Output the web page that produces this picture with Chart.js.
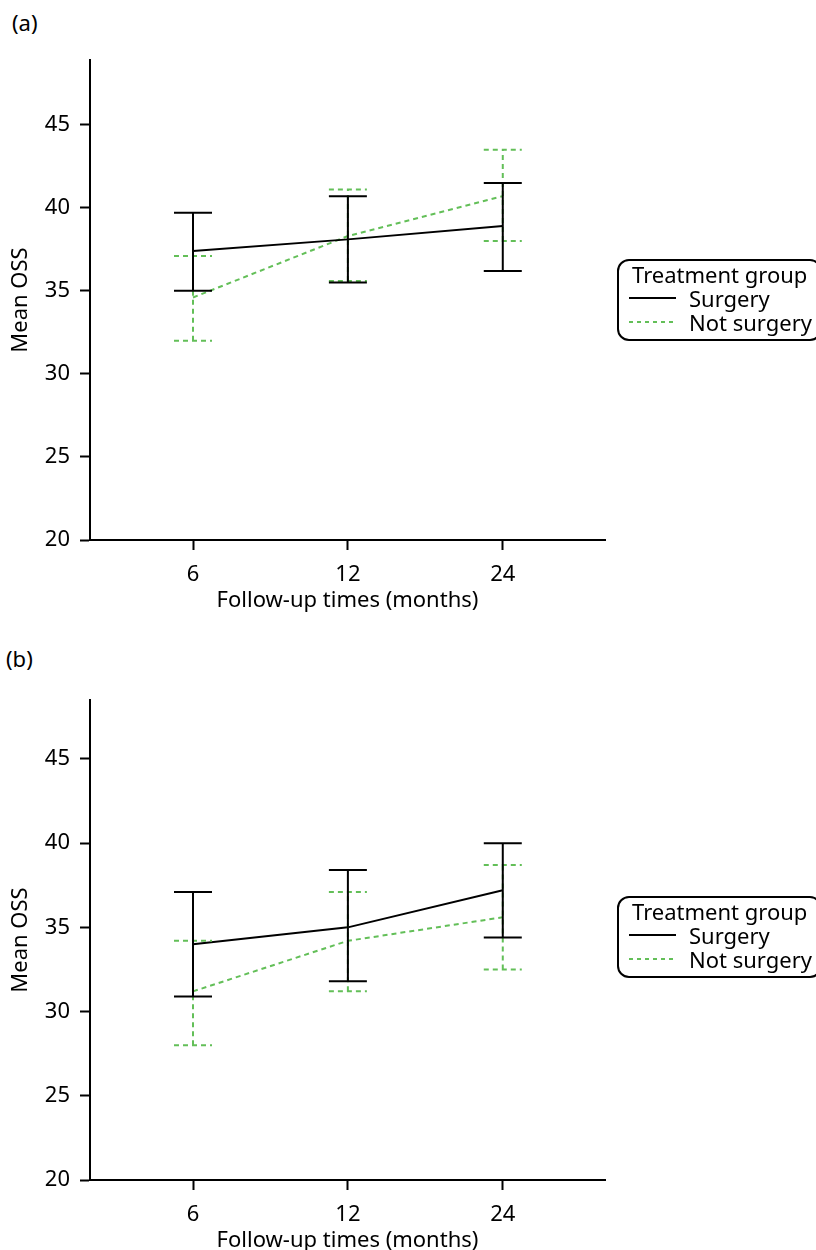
<!DOCTYPE html>
<html>
<head>
<meta charset="utf-8">
<script src="https://cdn.jsdelivr.net/npm/chart.js@4"></script>
<style>
  body { margin: 0; width: 816px; height: 1250px; overflow: hidden; background: #fff; position: relative;
         font-family: "Noto Sans", sans-serif; color: #000; }
  .panel { position: absolute; left: 0; width: 816px; height: 640px; }
  .panel canvas { position: absolute; left: 0; top: 0; }
  .tag { position: absolute; font-size: 22px; line-height: 26px; }
  .key { position: absolute; left: 617px; width: 205px; height: 82px; box-sizing: border-box;
         border: 2px solid #000; border-radius: 12px; padding: 1px 0 0 13px; font-size: 22px; line-height: 24px; }
  .key .row { display: flex; align-items: center; }
  .key .swatch { width: 47px; height: 2px; margin: 0 13px 0 -3px; background: #000; }
  .key .swatch.dash { background: repeating-linear-gradient(90deg, #63bf58 0 4px, transparent 4px 8px); }
</style>
</head>
<body>

<div class="panel" style="top:0">
  <div class="tag" style="left:12px; top:9px">(a)</div>
  <canvas id="plot-a" width="620" height="630"></canvas>
  <div class="key" style="top:259px">
    <div>Treatment group</div>
    <div class="row"><span class="swatch"></span>Surgery</div>
    <div class="row"><span class="swatch dash"></span>Not surgery</div>
  </div>
</div>

<div class="panel" style="top:640px">
  <div class="tag" style="left:6px; top:5px">(b)</div>
  <canvas id="plot-b" width="620" height="630"></canvas>
  <div class="key" style="top:256px">
    <div>Treatment group</div>
    <div class="row"><span class="swatch"></span>Surgery</div>
    <div class="row"><span class="swatch dash"></span>Not surgery</div>
  </div>
</div>

<script>
var followUp = ["6", "12", "24"];
var yTicks = [20, 25, 30, 35, 40, 45];

// (a) means and 95% CI limits
var surgeryMeanA = [37.4, 38.1, 38.9];
var surgeryLowA = [35.0, 35.5, 36.2];
var surgeryHighA = [39.7, 40.7, 41.5];
var notSurgeryMeanA = [34.6, 38.3, 40.7];
var notSurgeryLowA = [32.0, 35.6, 38.0];
var notSurgeryHighA = [37.1, 41.1, 43.5];

// (b)
var surgeryMeanB = [34.0, 35.0, 37.2];
var surgeryLowB = [30.9, 31.8, 34.4];
var surgeryHighB = [37.1, 38.4, 40.0];
var notSurgeryMeanB = [31.2, 34.2, 35.6];
var notSurgeryLowB = [28.0, 31.2, 32.5];
var notSurgeryHighB = [34.2, 37.1, 38.7];

var black = "#000000";
var green = "#63bf58";
var fontFamily = "'Noto Sans', sans-serif";

// vertical whiskers with caps, green first so black sits on top
var errorBars = {
  id: "errorBars",
  afterDatasetsDraw(chart) {
    const ctx = chart.ctx;
    const xs = chart.scales.x, ys = chart.scales.y;
    for (let d = chart.data.datasets.length - 1; d >= 0; d--) {
      const ds = chart.data.datasets[d];
      ctx.save();
      ctx.strokeStyle = ds.borderColor;
      ctx.lineWidth = 2;
      ctx.setLineDash(ds.borderDash || []);
      ds.low.forEach((lo, i) => {
        const x = xs.getPixelForValue(i + 1);
        const y1 = ys.getPixelForValue(lo);
        const y2 = ys.getPixelForValue(ds.high[i]);
        ctx.beginPath();
        ctx.moveTo(x, y1); ctx.lineTo(x, y2);
        ctx.moveTo(x - 19, y1); ctx.lineTo(x + 19, y1);
        ctx.moveTo(x - 19, y2); ctx.lineTo(x + 19, y2);
        ctx.stroke();
      });
      ctx.restore();
    }
  }
};

function toPoints(arr) {
  return arr.map((v, i) => ({ x: i + 1, y: v }));
}

function makePlot(id, sMean, sLow, sHigh, nMean, nLow, nHigh, yMax) {
  const tickFont = { family: fontFamily, size: 22 };
  return new Chart(id, {
    type: "line",
    data: {
      datasets: [{
        label: "Surgery",
        data: toPoints(sMean),
        low: sLow, high: sHigh,
        borderColor: black,
        borderWidth: 2,
        pointRadius: 0
      }, {
        label: "Not surgery",
        data: toPoints(nMean),
        low: nLow, high: nHigh,
        borderColor: green,
        borderWidth: 2,
        borderDash: [5, 4],
        pointRadius: 0
      }]
    },
    options: {
      responsive: false,
      animation: false,
      devicePixelRatio: 1,
      layout: { padding: { top: 60, right: 15, left: 0, bottom: 0 } },
      plugins: {
        legend: { display: false },
        tooltip: { enabled: false }
      },
      scales: {
        x: {
          type: "linear",
          min: 0.335,
          max: 3.66,
          afterBuildTicks: (s) => { s.ticks = followUp.map((_, i) => ({ value: i + 1 })); },
          afterFit: (s) => { s.height = 90; },
          ticks: {
            callback: (v) => followUp[Math.round(v) - 1],
            color: black, font: tickFont, padding: 12, maxRotation: 0, autoSkip: false
          },
          grid: { drawOnChartArea: false, drawTicks: true, tickLength: 10, tickWidth: 2, tickColor: black },
          border: { display: true, color: black, width: 2 },
          title: {
            display: true, text: "Follow-up times (months)", color: black, font: tickFont,
            padding: { top: 0, bottom: 16 }
          }
        },
        y: {
          min: 20,
          max: yMax,
          afterBuildTicks: (s) => { s.ticks = yTicks.map((v) => ({ value: v })); },
          afterFit: (s) => { s.width = 90; },
          ticks: { color: black, font: tickFont, padding: 10 },
          grid: { drawOnChartArea: false, drawTicks: true, tickLength: 10, tickWidth: 2, tickColor: black },
          border: { display: true, color: black, width: 2 },
          title: {
            display: true, text: "Mean OSS", color: black, font: tickFont,
            padding: { top: 8, bottom: 0 }
          }
        }
      }
    },
    plugins: [errorBars]
  });
}

makePlot("plot-a", surgeryMeanA, surgeryLowA, surgeryHighA, notSurgeryMeanA, notSurgeryLowA, notSurgeryHighA, 48.9);
makePlot("plot-b", surgeryMeanB, surgeryLowB, surgeryHighB, notSurgeryMeanB, notSurgeryLowB, notSurgeryHighB, 48.5);
</script>
</body>
</html>
